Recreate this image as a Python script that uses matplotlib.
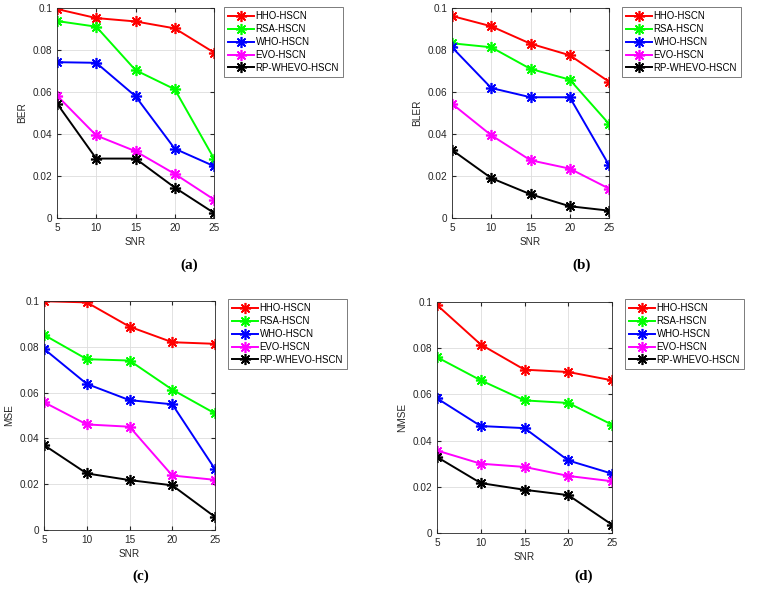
import matplotlib
matplotlib.use("Agg")
import matplotlib.pyplot as plt

plt.rcParams['font.family'] = ['Liberation Sans', 'DejaVu Sans']

# data
snr = [5, 10, 15, 20, 25]
names = ['HHO-HSCN', 'RSA-HSCN', 'WHO-HSCN', 'EVO-HSCN', 'RP-WHEVO-HSCN']
colors = ['#ff0000', '#00ff00', '#0000ff', '#ff00ff', '#000000']

ber = [[0.0995, 0.0952, 0.0936, 0.0903, 0.0788],
       [0.0938, 0.0911, 0.0704, 0.0613, 0.0283],
       [0.0742, 0.0739, 0.0580, 0.0330, 0.0247],
       [0.0583, 0.0393, 0.0318, 0.0210, 0.0088],
       [0.0545, 0.0283, 0.0283, 0.0145, 0.0024]]

bler = [[0.0962, 0.0913, 0.0830, 0.0775, 0.0649],
        [0.0832, 0.0813, 0.0710, 0.0659, 0.0448],
        [0.0813, 0.0619, 0.0575, 0.0575, 0.0252],
        [0.0544, 0.0394, 0.0275, 0.0235, 0.0140],
        [0.0324, 0.0190, 0.0113, 0.0056, 0.0035]]

mse = [[0.0999, 0.0994, 0.0888, 0.0820, 0.0813],
       [0.0852, 0.0746, 0.0740, 0.0613, 0.0509],
       [0.0791, 0.0638, 0.0567, 0.0549, 0.0266],
       [0.0558, 0.0461, 0.0451, 0.0238, 0.0219],
       [0.0371, 0.0247, 0.0218, 0.0195, 0.0057]]

nmse = [[0.0987, 0.0816, 0.0707, 0.0697, 0.0661],
        [0.0761, 0.0661, 0.0574, 0.0563, 0.0469],
        [0.0583, 0.0463, 0.0454, 0.0314, 0.0257],
        [0.0357, 0.0300, 0.0286, 0.0247, 0.0224],
        [0.0329, 0.0216, 0.0187, 0.0164, 0.0036]]

yticks = [0, 0.02, 0.04, 0.06, 0.08, 0.1]
yticklabels = ['0', '0.02', '0.04', '0.06', '0.08', '0.1']

W, H = 759, 594
fig = plt.figure(figsize=(W/100, H/100), dpi=100)

# panel: data, ylabel, axes box (left,top,right,bottom px), legend corner px, tag, tag pos px
panels = [
    (ber, 'BER', (57, 8, 214, 218), (224, 7), '(a)', (189, 265)),
    (bler, 'BLER', (452, 8, 609, 218), (622, 7), '(b)', (582, 265)),
    (mse, 'MSE', (44, 301, 215, 530), (228, 299), '(c)', (141, 576)),
    (nmse, 'NMSE', (437, 302, 612, 533), (625, 299), '(d)', (584, 576)),
]

for data, ylab, box, leg, tag, tpos in panels:
    l, t, r, b = box
    ax = fig.add_axes([l/W, 1-b/H, (r-l)/W, (b-t)/H])
    for vals, name, c in zip(data, names, colors):
        ax.plot(snr, vals, color=c, lw=1.4, marker=(8, 2, 0), ms=8,
                mew=1.2, label=name)
    ax.set_xlim(5, 25)
    ax.set_ylim(0, 0.1)
    ax.set_xticks(snr)
    ax.set_yticks(yticks)
    ax.set_yticklabels(yticklabels)
    ax.grid(True, color='#dddddd', lw=0.6)
    ax.tick_params(labelsize=7.2, colors='#262626', length=3, direction='in',
                   top=True, right=True)
    for s in ax.spines.values():
        s.set_color('#262626')
        s.set_linewidth(0.6)
    ax.set_xlabel('SNR', fontsize=7.2, color='#262626', labelpad=3)
    ax.set_ylabel(ylab, fontsize=7.2, color='#262626', labelpad=4)
    lg = ax.legend(loc='upper left', bbox_to_anchor=(leg[0]/W, 1-leg[1]/H),
                   bbox_transform=fig.transFigure, fontsize=6.9, fancybox=False,
                   framealpha=1, edgecolor='#666666', borderpad=0.45,
                   labelspacing=0.3, handlelength=2.7, handletextpad=0.15,
                   borderaxespad=0)
    lg.get_frame().set_linewidth(0.6)
    fig.text(tpos[0]/W, 1-tpos[1]/H, tag, fontsize=11, fontweight='bold',
             family='Liberation Serif', ha='center', va='center')

fig.savefig('out.png', dpi=100)
